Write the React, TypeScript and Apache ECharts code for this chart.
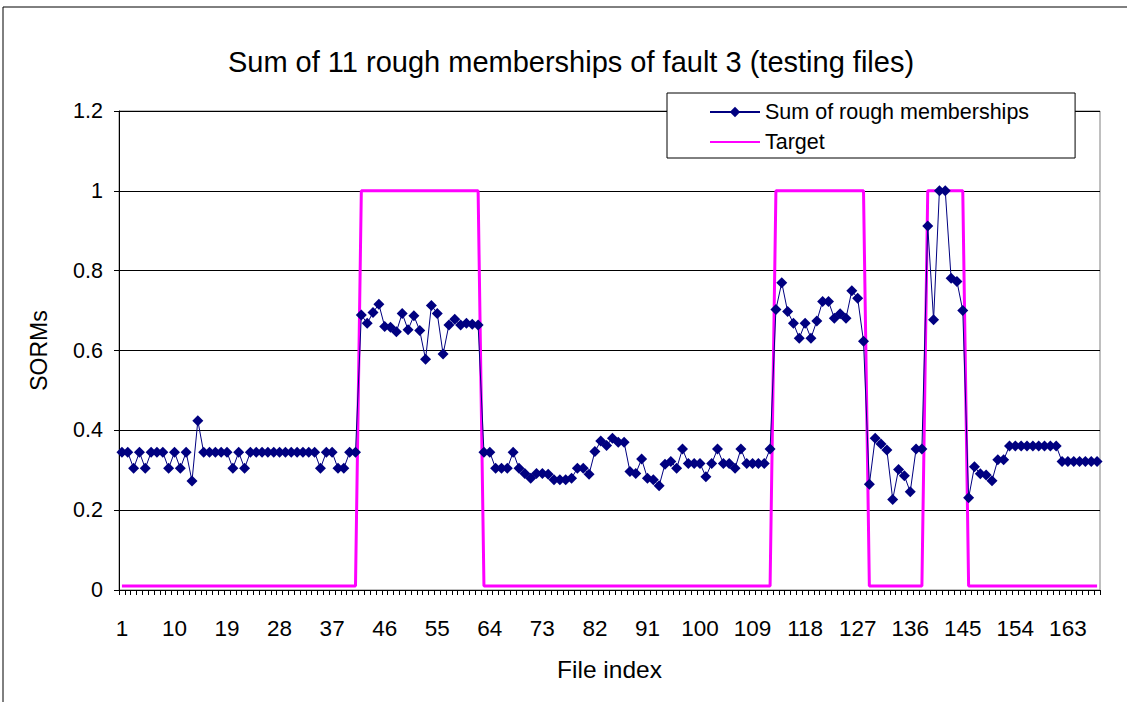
import React, { useEffect, useRef } from "react";
import * as echarts from "echarts";

const titleText = "Sum of 11 rough memberships of fault 3 (testing files)";
const xName = "File index";
const yName = "SORMs";
const seriesNames = ["Sum of rough memberships", "Target"];

// File indices 1..168
const categories: string[] = Array.from({ length: 168 }, (_, i) => String(i + 1));

const sorms: number[] = [
  0.345, 0.345, 0.305, 0.345, 0.305, 0.345, 0.345, 0.345, 0.305, 0.345,
  0.305, 0.345, 0.273, 0.424, 0.345, 0.345, 0.345, 0.345, 0.345, 0.305,
  0.345, 0.305, 0.345, 0.345, 0.345, 0.345, 0.345, 0.345, 0.345, 0.345,
  0.345, 0.345, 0.345, 0.345, 0.305, 0.345, 0.345, 0.305, 0.305, 0.345,
  0.345, 0.689, 0.668, 0.695, 0.716, 0.660, 0.658, 0.647, 0.693, 0.652,
  0.687, 0.650, 0.578, 0.713, 0.693, 0.591, 0.664, 0.678, 0.664, 0.668,
  0.666, 0.664, 0.345, 0.345, 0.305, 0.305, 0.305, 0.345, 0.305, 0.292,
  0.280, 0.292, 0.292, 0.290, 0.276, 0.276, 0.276, 0.280, 0.305, 0.305,
  0.290, 0.347, 0.373, 0.362, 0.380, 0.370, 0.370, 0.297, 0.292, 0.328,
  0.280, 0.276, 0.261, 0.315, 0.322, 0.305, 0.353, 0.317, 0.317, 0.317,
  0.284, 0.317, 0.353, 0.317, 0.317, 0.305, 0.353, 0.317, 0.317, 0.317,
  0.317, 0.353, 0.703, 0.770, 0.698, 0.668, 0.631, 0.668, 0.631, 0.674,
  0.723, 0.723, 0.681, 0.692, 0.681, 0.750, 0.731, 0.623, 0.265, 0.380,
  0.366, 0.351, 0.227, 0.302, 0.286, 0.246, 0.353, 0.353, 0.912, 0.677,
  1.0, 1.0, 0.781, 0.773, 0.700, 0.231, 0.309, 0.291, 0.288, 0.274,
  0.326, 0.326, 0.361, 0.361, 0.361, 0.361, 0.361, 0.361, 0.361, 0.361,
  0.361, 0.322, 0.322, 0.322, 0.322, 0.322, 0.322, 0.322,
];

const target: number[] = [
  0.01, 0.01, 0.01, 0.01, 0.01, 0.01, 0.01, 0.01, 0.01, 0.01,
  0.01, 0.01, 0.01, 0.01, 0.01, 0.01, 0.01, 0.01, 0.01, 0.01,
  0.01, 0.01, 0.01, 0.01, 0.01, 0.01, 0.01, 0.01, 0.01, 0.01,
  0.01, 0.01, 0.01, 0.01, 0.01, 0.01, 0.01, 0.01, 0.01, 0.01,
  0.01, 1, 1, 1, 1, 1, 1, 1, 1, 1,
  1, 1, 1, 1, 1, 1, 1, 1, 1, 1,
  1, 1, 0.01, 0.01, 0.01, 0.01, 0.01, 0.01, 0.01, 0.01,
  0.01, 0.01, 0.01, 0.01, 0.01, 0.01, 0.01, 0.01, 0.01, 0.01,
  0.01, 0.01, 0.01, 0.01, 0.01, 0.01, 0.01, 0.01, 0.01, 0.01,
  0.01, 0.01, 0.01, 0.01, 0.01, 0.01, 0.01, 0.01, 0.01, 0.01,
  0.01, 0.01, 0.01, 0.01, 0.01, 0.01, 0.01, 0.01, 0.01, 0.01,
  0.01, 0.01, 1, 1, 1, 1, 1, 1, 1, 1,
  1, 1, 1, 1, 1, 1, 1, 1, 0.01, 0.01,
  0.01, 0.01, 0.01, 0.01, 0.01, 0.01, 0.01, 0.01, 1, 1,
  1, 1, 1, 1, 1, 0.01, 0.01, 0.01, 0.01, 0.01,
  0.01, 0.01, 0.01, 0.01, 0.01, 0.01, 0.01, 0.01, 0.01, 0.01,
  0.01, 0.01, 0.01, 0.01, 0.01, 0.01, 0.01, 0.01,
];

const FONT = "'Liberation Sans', Arial, sans-serif";

export default function App() {
  const ref = useRef<HTMLDivElement>(null);
  useEffect(() => {
    if (!ref.current) return;
    const chart = echarts.init(ref.current, null, { renderer: "svg" });
    chart.setOption({
      animation: false,
      backgroundColor: "#ffffff",
      textStyle: { fontFamily: FONT, color: "#000" },
      title: {
        text: titleText,
        left: 566,
        textAlign: "center",
        top: 42,
        textStyle: { fontFamily: FONT, fontSize: 29, fontWeight: "normal", color: "#000" },
      },
      graphic: [
        {
          type: "rect",
          shape: { x: 3, y: 7, width: 1300, height: 900 },
          style: { fill: "none", stroke: "#000", lineWidth: 1 },
          silent: true,
          z: -10,
        },
      ],
      legend: {
        orient: "vertical",
        left: 667,
        top: 93,
        padding: [8, 46, 5, 42],
        itemGap: 8,
        itemWidth: 50,
        itemHeight: 13,
        backgroundColor: "#fff",
        borderColor: "#000",
        borderWidth: 1,
        textStyle: { fontFamily: FONT, fontSize: 21.5, color: "#000" },
        data: [
          { name: seriesNames[0] },
          { name: seriesNames[1], itemStyle: { opacity: 0 } },
        ],
      },
      grid: { left: 119, right: 27, top: 111, bottom: 112, show: true, borderColor: "#808080", borderWidth: 1 },
      xAxis: {
        type: "category",
        data: categories,
        boundaryGap: true,
        name: xName,
        nameLocation: "middle",
        nameGap: 67,
        nameTextStyle: { fontFamily: FONT, fontSize: 24.5, color: "#000" },
        axisLine: { lineStyle: { color: "#000", width: 1 } },
        axisTick: { show: true, interval: 0, length: 5, lineStyle: { color: "#000" } },
        axisLabel: { interval: 8, margin: 27, fontFamily: FONT, fontSize: 22.5, color: "#000" },
        splitLine: { show: false },
      },
      yAxis: {
        type: "value",
        min: 0,
        max: 1.2,
        interval: 0.2,
        name: yName,
        nameLocation: "middle",
        nameGap: 69,
        nameTextStyle: { fontFamily: FONT, fontSize: 23, color: "#000" },
        axisLine: { show: true, lineStyle: { color: "#000", width: 1 } },
        axisTick: { show: true, length: 5, lineStyle: { color: "#000" } },
        axisLabel: { margin: 16, fontFamily: FONT, fontSize: 21.5, color: "#000" },
        splitLine: { show: true, lineStyle: { color: "#000", width: 1 } },
      },
      series: [
        {
          name: seriesNames[0],
          type: "line",
          data: sorms,
          symbol: "diamond",
          symbolSize: 11,
          showAllSymbol: true,
          itemStyle: { color: "#000080" },
          lineStyle: { color: "#000080", width: 1 },
          z: 3,
        },
        {
          name: seriesNames[1],
          type: "line",
          data: target,
          symbol: "none",
          itemStyle: { color: "#ff00ff" },
          lineStyle: { color: "#ff00ff", width: 3 },
          z: 2,
        },
      ],
    });
    return () => chart.dispose();
  }, []);
  return (
    <div
      ref={ref}
      style={{ position: "fixed", left: 0, top: 0, width: 1127, height: 702 }}
    />
  );
}
